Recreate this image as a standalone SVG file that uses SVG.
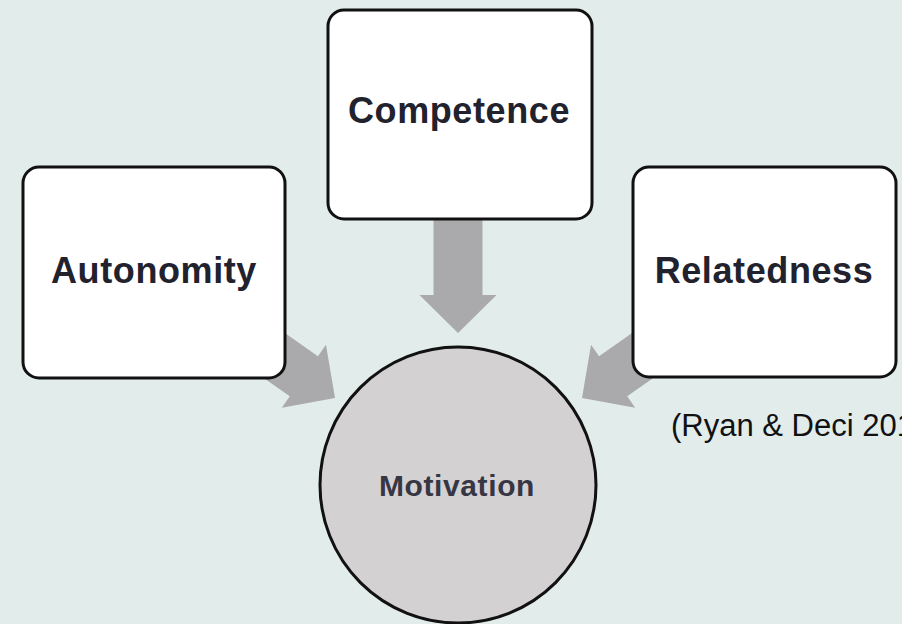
<svg xmlns="http://www.w3.org/2000/svg" width="902" height="624" viewBox="0 0 902 624">
  <style>
    .box { fill: #ffffff; stroke: #111111; stroke-width: 3; }
    .hub { fill: #d4d1d2; stroke: #111111; stroke-width: 3; }
    .label { font-family: "Liberation Sans", Arial, sans-serif; font-weight: bold; fill: #22222e; text-anchor: middle; }
    .big { font-size: 36px; letter-spacing: 0.6px; }
    .mid { font-size: 30px; letter-spacing: 0.6px; fill: #363644; }
    .cite { font-family: "Liberation Sans", Arial, sans-serif; font-size: 31px; fill: #111111; }
    .flow { fill: #aaaaac; }
  </style>
  <defs>
    <!-- block arrow pointing along +x, tip at the origin -->
    <path id="blockArrow" d="M0,0 L-38,-38.5 L-38,-24.5 L-130,-24.5 L-130,24.5 L-38,24.5 L-38,38.5 Z"/>
  </defs>

  <rect width="902" height="624" fill="#e1eceb"/>

  <g id="connectors" class="flow">
    <use href="#blockArrow" transform="translate(458,333) rotate(90)"/>
    <use href="#blockArrow" transform="translate(335,398) rotate(35)"/>
    <use href="#blockArrow" transform="translate(582,398) rotate(145)"/>
  </g>

  <g id="autonomity">
    <rect class="box" x="23" y="167" width="262" height="211" rx="16"/>
    <text class="label big" x="154" y="283">Autonomity</text>
  </g>

  <g id="competence">
    <rect class="box" x="328" y="10" width="264" height="209" rx="16"/>
    <text class="label big" x="459" y="123">Competence</text>
  </g>

  <g id="relatedness">
    <rect class="box" x="633" y="167" width="263" height="210" rx="16"/>
    <text class="label big" x="764" y="283">Relatedness</text>
  </g>

  <g id="motivation">
    <circle class="hub" cx="458" cy="485" r="138"/>
    <text class="label mid" x="457" y="496">Motivation</text>
  </g>

  <text class="cite" x="671" y="436">(Ryan &amp; Deci 201</text>
</svg>
